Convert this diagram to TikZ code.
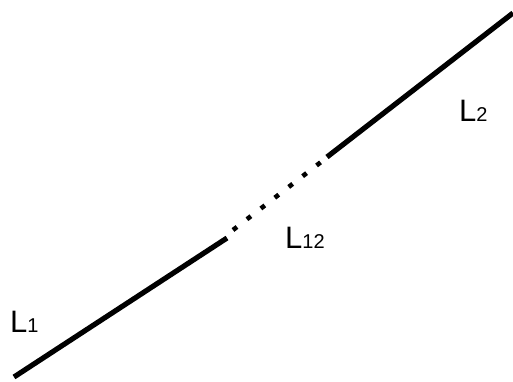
\documentclass[tikz,border=0pt]{standalone}
\usepackage{fontspec}
\setmainfont{Liberation Sans}
\begin{document}
\begin{tikzpicture}[x=1pt,y=-1pt,
  seg/.style={line width=5.2pt},
  gap/.style={line width=4.6pt, dash pattern=on 5pt off 12.6pt},
  lbl/.style={anchor=base west, inner sep=0pt, font=\fontsize{31}{31}\selectfont}]
\useasboundingbox (0,0) rectangle (513,381);
\coordinate (p0) at (14,377);
\coordinate (p1) at (227,238);
\coordinate (q0) at (233,230);
\coordinate (q1) at (321,162);
\coordinate (p2) at (327,157);
\coordinate (p3) at (513,13);
\draw[seg] (p0) -- (p1);
\draw[gap] (q0) -- (q1);
\draw[seg] (p2) -- (p3);
\node[lbl] (l1) at (10,332) {L{\fontsize{20}{20}\selectfont 1}};
\node[lbl] (l12) at (285,248) {L{\fontsize{20}{20}\selectfont 12}};
\node[lbl] (l2) at (459,121) {L{\fontsize{20}{20}\selectfont 2}};
\end{tikzpicture}
\end{document}
